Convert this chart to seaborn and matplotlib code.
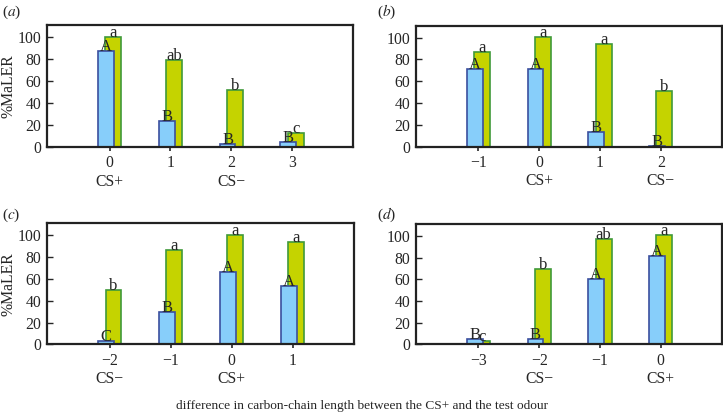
import matplotlib
matplotlib.use("Agg")
import matplotlib.pyplot as plt
import numpy as np
import seaborn as sns

sns.set_theme(style="white")
plt.rcParams['font.family'] = ['Liberation Serif', 'DejaVu Serif']
plt.rcParams['mathtext.fontset'] = 'stix'

# panel data: test odours (difference in chain length), two groups of bees
a_x = [0, 1, 2, 3]
a_blue = [87, 24, 3, 5]
a_green = [100, 79, 52, 13]
a_blue_let = ['A', 'B', 'B', 'B']
a_green_let = ['a', 'ab', 'b', 'c']
a_cs = {0: 'CS+', 2: 'CS\u2212'}

b_x = [-1, 0, 1, 2]
b_blue = [71, 71, 13, 0.5]
b_green = [87, 101, 94, 51]
b_blue_let = ['A', 'A', 'B', 'B']
b_green_let = ['a', 'a', 'a', 'b']
b_cs = {0: 'CS+', 2: 'CS\u2212'}

c_x = [-2, -1, 0, 1]
c_blue = [3, 30, 66, 54]
c_green = [50, 87, 100, 94]
c_blue_let = ['C', 'B', 'A', 'A']
c_green_let = ['b', 'a', 'a', 'a']
c_cs = {-2: 'CS\u2212', 0: 'CS+'}

d_x = [-3, -2, -1, 0]
d_blue = [5, 5, 60, 81]
d_green = [3, 69, 97, 101]
d_blue_let = ['B', 'B', 'A', 'A']
d_green_let = ['c', 'b', 'ab', 'a']
d_cs = {-2: 'CS\u2212', 0: 'CS+'}

blue_fill, blue_edge = '#87cefa', '#3b4f9e'
green_fill, green_edge = '#c5d300', '#3f9a3a'
off = 0.06
bw = 0.26

fig = plt.figure(figsize=(7.23, 4.13), dpi=100)
rects = [
    [0.065, 0.644, 0.423, 0.296],
    [0.575, 0.645, 0.423, 0.293],
    [0.065, 0.166, 0.424, 0.293],
    [0.575, 0.166, 0.423, 0.292],
]
# where the (a)..(d) tags sit, figure fraction
tag_pos = [(0.003, 0.971), (0.521, 0.972), (0.003, 0.479), (0.521, 0.479)]
panels = [
    ('a', a_x, a_blue, a_green, a_blue_let, a_green_let, a_cs, True),
    ('b', b_x, b_blue, b_green, b_blue_let, b_green_let, b_cs, False),
    ('c', c_x, c_blue, c_green, c_blue_let, c_green_let, c_cs, True),
    ('d', d_x, d_blue, d_green, d_blue_let, d_green_let, d_cs, False),
]

for rect, tp, (tag, xs, blue, green, bl, gl, cs, ylab) in zip(rects, tag_pos, panels):
    ax = fig.add_axes(rect)
    xs = np.array(xs, dtype=float)
    sns.barplot(x=xs + off, y=green, native_scale=True, width=bw,
                color=green_fill, edgecolor=green_edge, linewidth=1.2,
                saturation=1, errorbar=None, ax=ax)
    sns.barplot(x=xs - off, y=blue, native_scale=True, width=bw,
                color=blue_fill, edgecolor=blue_edge, linewidth=1.2,
                saturation=1, errorbar=None, ax=ax)
    for x, v, t in zip(xs, blue, bl):
        ax.text(x - off, v, t, ha='center', va='baseline', fontsize=12)
    for x, v, t in zip(xs, green, gl):
        ax.text(x + off, v, t, ha='center', va='baseline', fontsize=12)

    ax.set_xlim(xs[0] - 1.03, xs[-1] + 1.0)
    ax.set_ylim(0, 111)
    ax.set_yticks([0, 20, 40, 60, 80, 100])
    ax.set_xticks(xs)
    ax.set_xticklabels([f"{int(x)}".replace('-', '\u2212') + ('\n' + cs[int(x)] if int(x) in cs else '')
                        for x in xs], linespacing=1.2)
    ax.tick_params(axis='y', direction='in', length=4, width=1, labelsize=11.3, pad=4, left=True)
    ax.tick_params(axis='x', direction='out', length=3, width=1.2, labelsize=11.3, pad=3, bottom=True)
    for s in ax.spines.values():
        s.set_color('#222222')
        s.set_linewidth(1.6)
    ax.set_xlabel('')
    if ylab:
        ax.set_ylabel('%MaLER', fontsize=11.3)
        ax.yaxis.set_label_coords(-0.1, 0.5)
    else:
        ax.set_ylabel('')
    fig.text(tp[0], tp[1], '($\\mathit{' + tag + '}$)', fontsize=11, va='center', ha='left')

fig.text(0.5, 0.018, 'difference in carbon-chain length between the CS+ and the test odour',
         ha='center', va='center', fontsize=9.6)

fig.savefig('out.png', dpi=100)
